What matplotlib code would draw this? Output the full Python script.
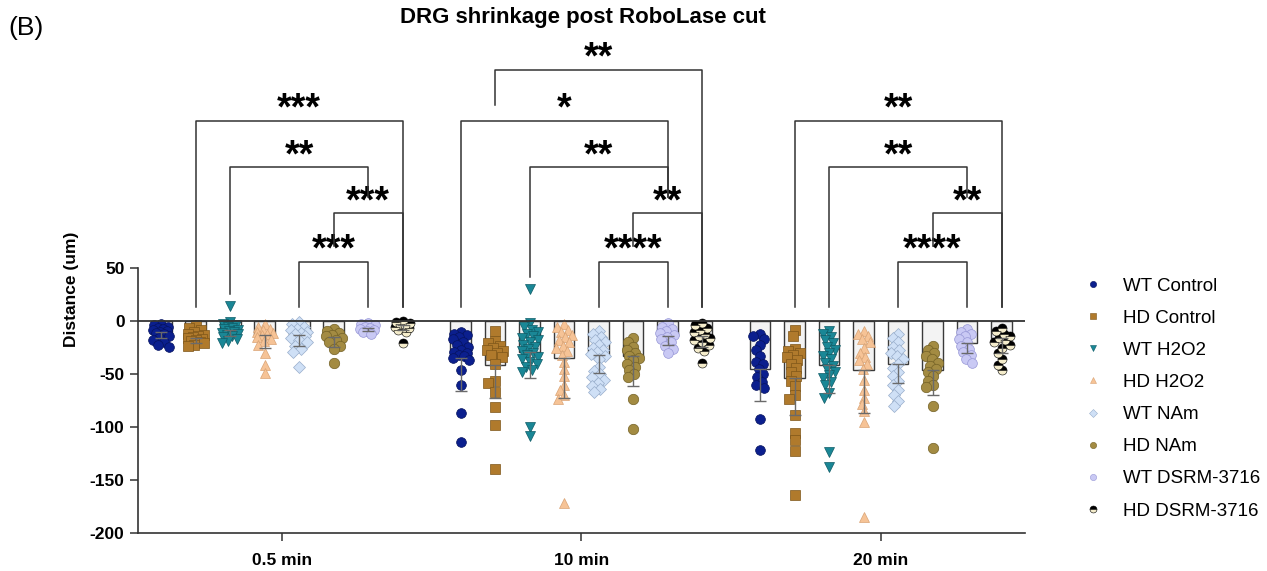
import numpy as np
import matplotlib
matplotlib.use("Agg")
import matplotlib.pyplot as plt
from matplotlib.lines import Line2D

plt.rcParams['font.family'] = ['Liberation Sans', 'DejaVu Sans']

timepoints = ["0.5 min", "10 min", "20 min"]
groups = ["WT Control", "HD Control", "WT H2O2", "HD H2O2",
          "WT NAm", "HD NAm", "WT DSRM-3716", "HD DSRM-3716"]

# individual points, one list per group, per timepoint
pts_05 = [
    [-3, -4, -5, -6, -7, -8, -9, -10, -11, -12, -14, -16, -18, -20, -22, -24],
    [-4, -6, -8, -10, -12, -13, -14, -15, -16, -17, -18, -19, -20, -21, -22, -23],
    [14, -1, -3, -4, -5, -6, -7, -8, -9, -10, -11, -12, -13, -14, -15, -17, -19, -21],
    [-3, -5, -7, -8, -10, -11, -12, -13, -15, -17, -19, -22, -30, -41, -49],
    [-1, -3, -5, -7, -8, -10, -11, -12, -14, -16, -18, -20, -23, -26, -29, -43],
    [-7, -9, -11, -13, -14, -16, -18, -20, -23, -26, -39],
    [-2, -3, -4, -5, -6, -7, -8, -9, -10, -12],
    [0, -1, -2, -3, -4, -5, -6, -7, -8, -10, -21],
]
pts_10 = [
    [-10, -12, -13, -15, -17, -20, -22, -24, -27, -29, -30, -32, -33, -35, -37, -46, -60, -87, -114],
    [-9, -19, -21, -23, -25, -27, -28, -30, -32, -34, -40, -56, -58, -67, -81, -98, -139],
    [30, -2, -5, -8, -10, -12, -14, -16, -18, -20, -22, -24, -26, -28, -30, -32, -34,
     -36, -38, -40, -43, -46, -48, -100, -108],
    [-3, -5, -8, -10, -13, -15, -18, -20, -23, -25, -28, -32, -38, -45, -52, -60, -65, -70, -73, -171],
    [-9, -12, -15, -18, -20, -22, -25, -27, -29, -31, -33, -36, -43, -47, -50, -53, -55, -58, -61, -64, -67],
    [-16, -20, -24, -27, -30, -33, -35, -37, -40, -43, -46, -50, -53, -73, -102],
    [-2, -5, -7, -9, -11, -13, -15, -17, -20, -23, -26, -30],
    [-2, -4, -6, -8, -10, -12, -14, -16, -18, -20, -22, -25, -28, -39],
]
pts_20 = [
    [-12, -14, -17, -22, -27, -33, -38, -40, -45, -50, -53, -57, -60, -63, -92, -121],
    [-8, -14, -26, -28, -30, -32, -34, -37, -40, -44, -48, -52, -56, -61, -70, -73, -88,
     -105, -112, -122, -164],
    [-9, -12, -15, -18, -21, -24, -27, -30, -33, -36, -39, -42, -45, -48, -51, -54, -57,
     -60, -68, -72, -123, -137],
    [-9, -12, -14, -17, -20, -25, -30, -34, -37, -40, -45, -55, -65, -72, -78, -85, -95, -185],
    [-12, -16, -20, -24, -27, -30, -33, -36, -40, -44, -48, -52, -56, -60, -65, -70, -75, -80],
    [-23, -27, -30, -33, -36, -39, -42, -45, -48, -52, -56, -60, -62, -80, -120],
    [-7, -10, -12, -14, -17, -20, -23, -26, -29, -32, -36, -39],
    [-6, -9, -12, -14, -16, -18, -20, -22, -25, -30, -36, -41, -46],
]
points = [pts_05, pts_10, pts_20]

# bar means and SD
mean_05 = [-10, -16, -8, -13, -13, -15, -6, -4]
mean_10 = [-35, -41, -29, -35, -32, -33, -14, -14]
mean_20 = [-45, -54, -41, -46, -40, -46, -21, -16]
sd_05 = [6, 5, 6, 12, 10, 9, 3, 4]
sd_10 = [31, 31, 25, 37, 17, 28, 8, 10]
sd_20 = [30, 34, 27, 41, 18, 24, 9, 14]
means = [mean_05, mean_10, mean_20]
sds = [sd_05, sd_10, sd_20]

# significance brackets: (timepoint, left group, right group, height, label)
brackets = [
    (0, 1, 7, 189, "***"), (0, 2, 6, 145, "**"), (0, 5, 7, 102, "***"), (0, 4, 6, 56, "***"),
    (1, 1, 7, 237, "**"), (1, 0, 6, 189, "*"), (1, 2, 6, 145, "**"), (1, 5, 7, 102, "**"),
    (1, 4, 6, 56, "****"),
    (2, 1, 7, 189, "**"), (2, 2, 6, 145, "**"), (2, 5, 7, 102, "**"), (2, 4, 6, 56, "****"),
]

colors = ["#0b1f8e", "#b07a2c", "#1a8796", "#f6c396", "#cfe0f6", "#a38b42", "#c9c9f4", "black"]
edges = ["#06135e", "#7d5519", "#0e5b66", "#d9a374", "#98aecb", "#736126", "#9797d6", "black"]
markers = ["o", "s", "v", "^", "D", "o", "o", "o"]
msizes = [7, 6.5, 7.5, 7.5, 6, 7.5, 7, 6.5]

GAP = 8.68
XPX = 34.5   # px per bar unit
YPX = 1.058  # px per data unit


def swarm(vals, d=6.5, maxw=8):
    vals = np.asarray(vals, dtype=float)
    order = np.argsort(-vals)
    cands = np.arange(-maxw, maxw + 0.1, 1.0)
    cands = cands[np.argsort(np.abs(cands), kind="stable")]
    placed = []
    xs = np.zeros(len(vals))
    for k in order:
        y = vals[k] * YPX
        best, bestd = 0.0, -1
        for c in cands:
            if placed:
                p = np.array(placed)
                md = np.min(np.hypot(p[:, 0] - c, p[:, 1] - y))
            else:
                md = 1e9
            if md >= d:
                best = c
                break
            if md > bestd:
                best, bestd = c, md
        xs[k] = best
        placed.append((best, y))
    return xs / XPX


fig = plt.figure(figsize=(12.67, 5.71), dpi=100)
ax = fig.add_axes([137.7 / 1267, 0.066, (1025 - 137.7) / 1267, 0.8543])
ax.set_xlim(-4.18, 21.54)
ax.set_ylim(-200, 260)

for g in range(3):
    for i in range(8):
        x = g * GAP + (i - 3.5)
        m = means[g][i]
        ax.bar(x, m, width=0.6, color="#f3f3f3", edgecolor="#3a3a3a", linewidth=1.0, zorder=2)
        vals = points[g][i]
        xo = swarm(vals)
        if i == 7:
            ax.plot(x + xo, vals, ls="none", marker="o", markersize=msizes[i],
                    fillstyle="top", markerfacecolor="black", markerfacecoloralt="#f4eccb",
                    markeredgecolor="black", markeredgewidth=0.4, zorder=3)
        else:
            ax.plot(x + xo, vals, ls="none", marker=markers[i], markersize=msizes[i],
                    markerfacecolor=colors[i], markeredgecolor=edges[i],
                    markeredgewidth=0.5, zorder=3)
        ax.errorbar(x, m, yerr=[[sds[g][i]], [0]], fmt="none", ecolor="#6a6a6a",
                    elinewidth=1.0, capsize=4.5, capthick=1.0, zorder=4)

ax.axhline(0, color="#333333", lw=1.3, zorder=5)

# brackets
levels_by_g = {}
for g, a, b, h, lab in brackets:
    levels_by_g.setdefault(g, []).append((a, b, h))

for g, a, b, h, lab in brackets:
    xa = g * GAP + (a - 3.5)
    xb = g * GAP + (b - 3.5)
    legs = []
    for idx, xx in ((a, xa), (b, xb)):
        bottom = max(13, max(points[g][idx]) + 12)
        for a2, b2, h2 in levels_by_g[g]:
            if h2 < h and a2 < idx < b2:
                bottom = max(bottom, h2 + 15)
        legs.append(bottom)
    ax.plot([xa, xa, xb, xb], [legs[0], h, h, legs[1]], color="#333333", lw=1.1,
            clip_on=False, zorder=5)
    ax.text((xa + xb) / 2, h + 1, lab, ha="center", va="baseline", fontsize=27,
            fontweight="bold", clip_on=False)

ax.spines["top"].set_visible(False)
ax.spines["right"].set_visible(False)
ax.spines["left"].set_bounds(-200, 50)
ax.spines["left"].set_color("#333333")
ax.spines["bottom"].set_color("#333333")
ax.spines["left"].set_linewidth(1.2)
ax.spines["bottom"].set_linewidth(1.2)
ax.set_yticks([-200, -150, -100, -50, 0, 50])
ax.set_yticklabels(["-200", "-150", "-100", "-50", "0", "50"], fontweight="bold", fontsize=12.5)
ax.set_xticks([g * GAP for g in range(3)])
ax.set_xticklabels(timepoints, fontweight="bold", fontsize=12.5)
ax.tick_params(axis="both", length=6, width=1.1, color="#333333")
ax.tick_params(axis="x", pad=8)
ax.set_ylabel("Distance (um)", fontweight="bold", fontsize=12.5, labelpad=8)

fig.text(583 / 1267, 1 - 18 / 571, "DRG shrinkage post RoboLase cut", ha="center", va="center",
         fontsize=16, fontweight="bold")
fig.text(8 / 1267, 1 - 28 / 571, "(B)", ha="left", va="center", fontsize=19)

handles = []
for i in range(8):
    if i == 7:
        h = Line2D([], [], ls="none", marker="o", markersize=5, fillstyle="top",
                   markerfacecolor="black", markerfacecoloralt="#f4eccb",
                   markeredgecolor="black", markeredgewidth=0.4)
    else:
        h = Line2D([], [], ls="none", marker=markers[i], markersize=4.5,
                   markerfacecolor=colors[i], markeredgecolor=edges[i], markeredgewidth=0.4)
    handles.append(h)
fig.legend(handles, groups, loc="upper left", bbox_to_anchor=(1076 / 1267, 1 - 270 / 571),
           frameon=False, fontsize=13.5, labelspacing=0.8, handletextpad=1.1,
           handlelength=1.0, borderaxespad=0)

fig.savefig("out.png", dpi=100)
